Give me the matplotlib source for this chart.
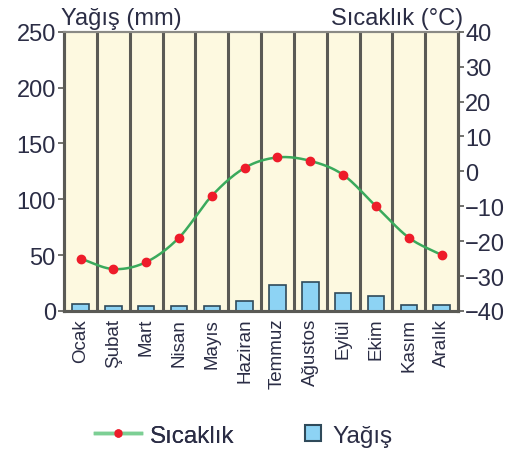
import matplotlib
matplotlib.use("Agg")
import matplotlib.pyplot as plt
import numpy as np
from matplotlib.lines import Line2D

plt.rcParams['font.family'] = ['Liberation Sans', 'DejaVu Sans']

months = ['Ocak', 'Şubat', 'Mart', 'Nisan', 'Mayıs', 'Haziran',
          'Temmuz', 'Ağustos', 'Eylül', 'Ekim', 'Kasım', 'Aralık']
# monthly precipitation (mm)
rain = [6, 4, 4, 4, 4, 9, 23, 26, 16, 13, 5, 5]
# monthly mean temperature (°C)
temp = [-25, -28, -26, -19, -7, 1, 4, 3, -1, -10, -19, -24]

left_ticks = [0, 50, 100, 150, 200, 250]
right_ticks = [-40, -30, -20, -10, 0, 10, 20, 30, 40]

text_col = '#2b2d45'
grid_col = '#5a5a55'


def catmull_rom(x, y, n=20):
    # smooth curve through the points for the temperature line
    x = np.asarray(x, float)
    y = np.asarray(y, float)
    px = np.concatenate([[2 * x[0] - x[1]], x, [2 * x[-1] - x[-2]]])
    py = np.concatenate([[2 * y[0] - y[1]], y, [2 * y[-1] - y[-2]]])
    xs, ys = [], []
    t = np.linspace(0, 1, n, endpoint=False)
    for i in range(1, len(px) - 2):
        for p, out in ((px, xs), (py, ys)):
            p0, p1, p2, p3 = p[i - 1], p[i], p[i + 1], p[i + 2]
            out.extend(0.5 * (2 * p1 + (-p0 + p2) * t
                              + (2 * p0 - 5 * p1 + 4 * p2 - p3) * t ** 2
                              + (-p0 + 3 * p1 - 3 * p2 + p3) * t ** 3))
    xs.append(x[-1])
    ys.append(y[-1])
    return np.array(xs), np.array(ys)


fig = plt.figure(figsize=(5.17, 4.56), dpi=100)
ax1 = fig.add_axes([0.124, 0.316, 0.762, 0.612])
ax1.set_facecolor('#fdf9e0')

x = np.arange(len(months))
ax1.bar(x, rain, width=0.5, color='#8dd3f4', edgecolor='#2f4a5a', linewidth=1.2, zorder=3)

# column dividers
for b in np.arange(0.5, len(months) - 1, 1):
    ax1.axvline(b, color=grid_col, lw=2.2, zorder=2)

ax1.set_xlim(-0.5, len(months) - 0.5)
ax1.set_ylim(0, 250)
ax1.set_yticks(left_ticks)
ax1.set_xticks(x)
ax1.set_xticklabels(months, rotation=90, fontsize=13.5, color=text_col)
ax1.tick_params(axis='y', labelsize=17, colors=text_col, length=4, width=1.2, pad=2)
ax1.tick_params(axis='y', color=grid_col)
ax1.tick_params(axis='x', length=0, pad=5)

ax2 = ax1.twinx()
sx, sy = catmull_rom(x, temp)
ax2.plot(sx, sy, color='#3aaa5c', lw=1.8, zorder=4)
ax2.plot(x, temp, 'o', color='#ee1c2a', markersize=6, zorder=5)
ax2.set_ylim(-40, 40)
ax2.set_yticks(right_ticks)
ax2.tick_params(axis='y', labelsize=17, colors=text_col, length=4, width=1.2, pad=1)
ax2.tick_params(axis='y', color=grid_col)

for ax in (ax1, ax2):
    for side in ('left', 'right', 'bottom'):
        ax.spines[side].set_color(grid_col)
        ax.spines[side].set_linewidth(2.2)
    ax.spines['top'].set_color('#8a8a85')
    ax.spines['top'].set_linewidth(1.5)

fig.text(0.118, 0.935, 'Yağış (mm)', fontsize=17, color=text_col, ha='left', va='bottom')
fig.text(0.895, 0.935, 'Sıcaklık (°C)', fontsize=17, color=text_col, ha='right', va='bottom')

# two separate legend entries under the chart
temp_handle = Line2D([0], [0], color='#7ccf94', lw=2.5, marker='o', markersize=5,
                     markerfacecolor='#ee1c2a', markeredgecolor='#ee1c2a')
rain_handle = Line2D([0], [0], linestyle='none', marker='s', markersize=12,
                     markerfacecolor='#8dd3f4', markeredgecolor='#2f4a5a',
                     markeredgewidth=1.5)
leg_kw = dict(frameon=False, fontsize=17.5, labelcolor=text_col,
              borderpad=0, borderaxespad=0)
leg1 = fig.legend([temp_handle], ['Sıcaklık'], loc='center left',
                  bbox_to_anchor=(0.184, 0.042), handlelength=1.9,
                  handletextpad=0.35, **leg_kw)
fig.add_artist(leg1)
fig.legend([rain_handle], ['Yağış'], loc='center left',
           bbox_to_anchor=(0.586, 0.042), handlelength=0.8,
           handletextpad=0.42, **leg_kw)

fig.savefig('out.png', dpi=100, facecolor='white')
